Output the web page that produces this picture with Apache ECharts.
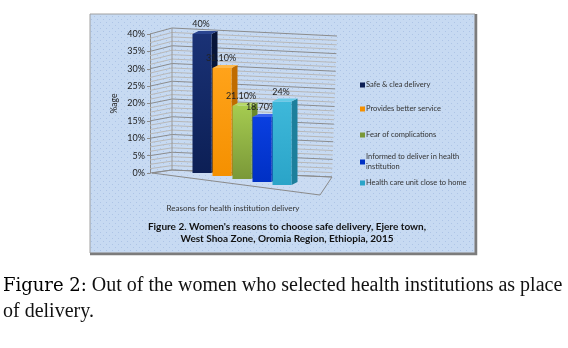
<!DOCTYPE html>
<html>
<head>
<meta charset="utf-8">
<script src="https://cdn.jsdelivr.net/npm/echarts@6/dist/echarts.min.js"></script>
<style>
  html, body { margin: 0; padding: 0; background: #fff; }
  #chart { width: 568px; height: 348px; }
</style>
</head>
<body>
<div id="chart"></div>
<script>
// data
var reasons = [
  'Safe & clea delivery',
  'Provides better service',
  'Fear of complications',
  'Informed to deliver in health institution',
  'Health care unit close to home'
];
var percents = [40, 31.1, 21.1, 18.7, 24];
var yMin = 0, yMax = 40, yStep = 5;

// bar colours: front, side, top
var barColors = [
  { front: ['#1a3276', '#0c1f55'], side: '#081538', top: '#2a4590' },
  { front: ['#ffa31a', '#f59000'], side: '#c06c00', top: '#ffb84a' },
  { front: ['#a5cb50', '#7a9838'], side: '#6a8a2c', top: '#b8d868' },
  { front: ['#0a3fe0', '#0030c4'], side: '#0020a0', top: '#3a62ee' },
  { front: ['#3eb8da', '#2aa4c8'], side: '#1d7f9c', top: '#64cae6' }
];

// dotted background of the panel
var pat = document.createElement('canvas');
pat.width = 6; pat.height = 6;
var pctx = pat.getContext('2d');
pctx.fillStyle = '#c7daf2';
pctx.fillRect(0, 0, 6, 6);
pctx.fillStyle = '#adc4e6';
pctx.fillRect(1, 1, 1, 1);
pctx.fillRect(4, 4, 1, 1);

var chart = echarts.init(document.getElementById('chart'));

function fmtPct(v) {
  return (Math.round(v) === v ? v : v.toFixed(2)) + '%';
}

// 3D walls and gridlines
function renderWalls(params, api) {
  var cs = params.coordSys;
  var fx = cs.x - 42, bx = cs.x - 20;
  var kids = [];
  function pts(v) {
    var yf = api.coord([0, v])[1];
    return [[fx, yf], [bx, yf - 3 - v * 0.075], [cs.x + 140 + v * 0.125, yf + 4 - v * 0.05]];
  }
  for (var k = 0; k <= 32; k++) {
    var v = k * 1.25;
    kids.push({
      type: 'polyline',
      shape: { points: pts(v) },
      style: { stroke: k % 4 === 0 ? '#8c8c8c' : '#b8b8b8', lineWidth: 1, fill: null }
    });
  }
  var p0 = pts(0), p40 = pts(40);
  kids.push({
    type: 'line',
    shape: { x1: bx, y1: p0[1][1], x2: bx, y2: p40[1][1] },
    style: { stroke: '#9a9a9a', lineWidth: 1 }
  });
  // floor
  kids.push({
    type: 'polygon',
    shape: { points: [[fx + 2, p0[0][1]], p0[1], p0[2], [cs.x + 128, p0[0][1] + 22]] },
    style: { stroke: '#8a8a8a', lineWidth: 1, fill: 'rgba(210,225,245,0.25)' }
  });
  return { type: 'group', children: kids };
}

// one 3D column
function renderBar(params, api) {
  var i = api.value(0);
  var val = api.value(1);
  var c = barColors[i];
  var top = api.coord([i, val]);
  var base = api.coord([i, 0]);
  var w = api.size([1, 0])[0] * 0.95;
  var sh = i * 3;
  var x0 = top[0] - w / 2, x1 = x0 + w;
  var y0 = top[1] + sh, y1 = base[1] + sh;
  var dx = 6, dy = -3;
  return {
    type: 'group',
    children: [
      {
        type: 'polygon',
        shape: { points: [[x1, y0], [x1 + dx, y0 + dy], [x1 + dx, y1 + dy], [x1, y1]] },
        style: { fill: c.side }
      },
      {
        type: 'rect',
        shape: { x: x0, y: y0, width: w, height: y1 - y0 },
        style: {
          fill: new echarts.graphic.LinearGradient(0, 0, 0, 1, [
            { offset: 0, color: c.front[0] },
            { offset: 1, color: c.front[1] }
          ])
        }
      },
      {
        type: 'polygon',
        shape: { points: [[x0, y0], [x0 + dx, y0 + dy], [x1 + dx, y0 + dy], [x1, y0]] },
        style: { fill: c.top }
      },
      {
        type: 'text',
        x: top[0] - 1,
        y: y0 - 10,
        style: {
          text: fmtPct(val),
          fill: '#222',
          font: '9px Lato',
          align: 'center',
          verticalAlign: 'middle'
        }
      }
    ]
  };
}

var series = [{
  type: 'custom',
  name: 'walls',
  silent: true,
  z: 1,
  renderItem: renderWalls,
  data: [[0, 0]]
}];
reasons.forEach(function (name, i) {
  series.push({
    type: 'custom',
    name: name,
    z: 3,
    color: barColors[i].front[1],
    renderItem: renderBar,
    data: [[i, percents[i]]]
  });
});

var legendTops = [75, 99, 125, 147, 173];
var legends = reasons.map(function (name, i) {
  return {
    data: [name],
    left: 355,
    top: legendTops[i],
    orient: 'vertical',
    icon: 'rect',
    itemWidth: 5,
    itemHeight: 5,
    itemGap: 2,
    selectedMode: false,
    formatter: function (n) {
      return n === reasons[3] ? 'Informed to deliver in health\ninstitution' : n;
    },
    textStyle: { fontFamily: 'Lato', fontSize: 7.5, color: '#333', lineHeight: 10, padding: [0, 0, 0, -4] }
  };
});

var option = {
  backgroundColor: '#fff',
  animation: false,
  graphic: [
    {
      type: 'rect',
      z: -10,
      shape: { x: 90, y: 14, width: 385, height: 239 },
      style: { fill: { image: pat, repeat: 'repeat' }, stroke: '#a0a0a0', lineWidth: 1 }
    },
    {
      type: 'polyline',
      z: -9,
      shape: { points: [[476, 14], [476, 254], [90, 254]] },
      style: { stroke: '#7c7c7c', lineWidth: 2.5, fill: null }
    }
  ],
  title: [
    {
      text: "Figure 2. Women's reasons to choose safe delivery, Ejere town,\nWest Shoa Zone, Oromia Region, Ethiopia, 2015",
      left: 282,
      top: 216,
      textAlign: 'center',
      textStyle: { fontFamily: 'Lato', fontSize: 10, fontWeight: 'bold', color: '#111', lineHeight: 12, align: 'center' }
    },
    {
      text: '{b|Figure 2:} Out of the women who selected health institutions as place\nof delivery.',
      left: 3,
      top: 273,
      padding: 0,
      textStyle: {
        fontFamily: 'Liberation Serif',
        fontSize: 20,
        fontWeight: 'normal',
        color: '#111',
        lineHeight: 26,
        rich: {
          b: { fontFamily: 'DejaVu Serif', fontSize: 18, fontWeight: 'normal', color: '#000' }
        }
      }
    }
  ],
  legend: legends,
  grid: { left: 192, top: 34, width: 100, height: 139 },
  xAxis: {
    type: 'category',
    data: reasons,
    boundaryGap: true,
    axisLine: { show: false },
    axisTick: { show: false },
    axisLabel: { show: false },
    name: 'Reasons for health institution delivery',
    nameLocation: 'middle',
    nameGap: 31,
    nameTextStyle: { fontFamily: 'Lato', fontSize: 8, color: '#333', padding: [0, 18, 0, 0] }
  },
  yAxis: {
    type: 'value',
    min: yMin,
    max: yMax,
    interval: yStep,
    offset: 42,
    axisLine: { show: true, lineStyle: { color: '#8c8c8c' } },
    axisTick: { show: true, length: 3, lineStyle: { color: '#8c8c8c' } },
    splitLine: { show: false },
    axisLabel: { formatter: '{value}%', fontFamily: 'Lato', fontSize: 9, color: '#222', margin: 5 },
    name: '%age',
    nameLocation: 'middle',
    nameRotate: 90,
    nameGap: 31,
    nameTextStyle: { fontFamily: 'Lato', fontSize: 8.5, color: '#222' }
  },
  series: series
};
chart.setOption(option);
</script>
</body>
</html>
